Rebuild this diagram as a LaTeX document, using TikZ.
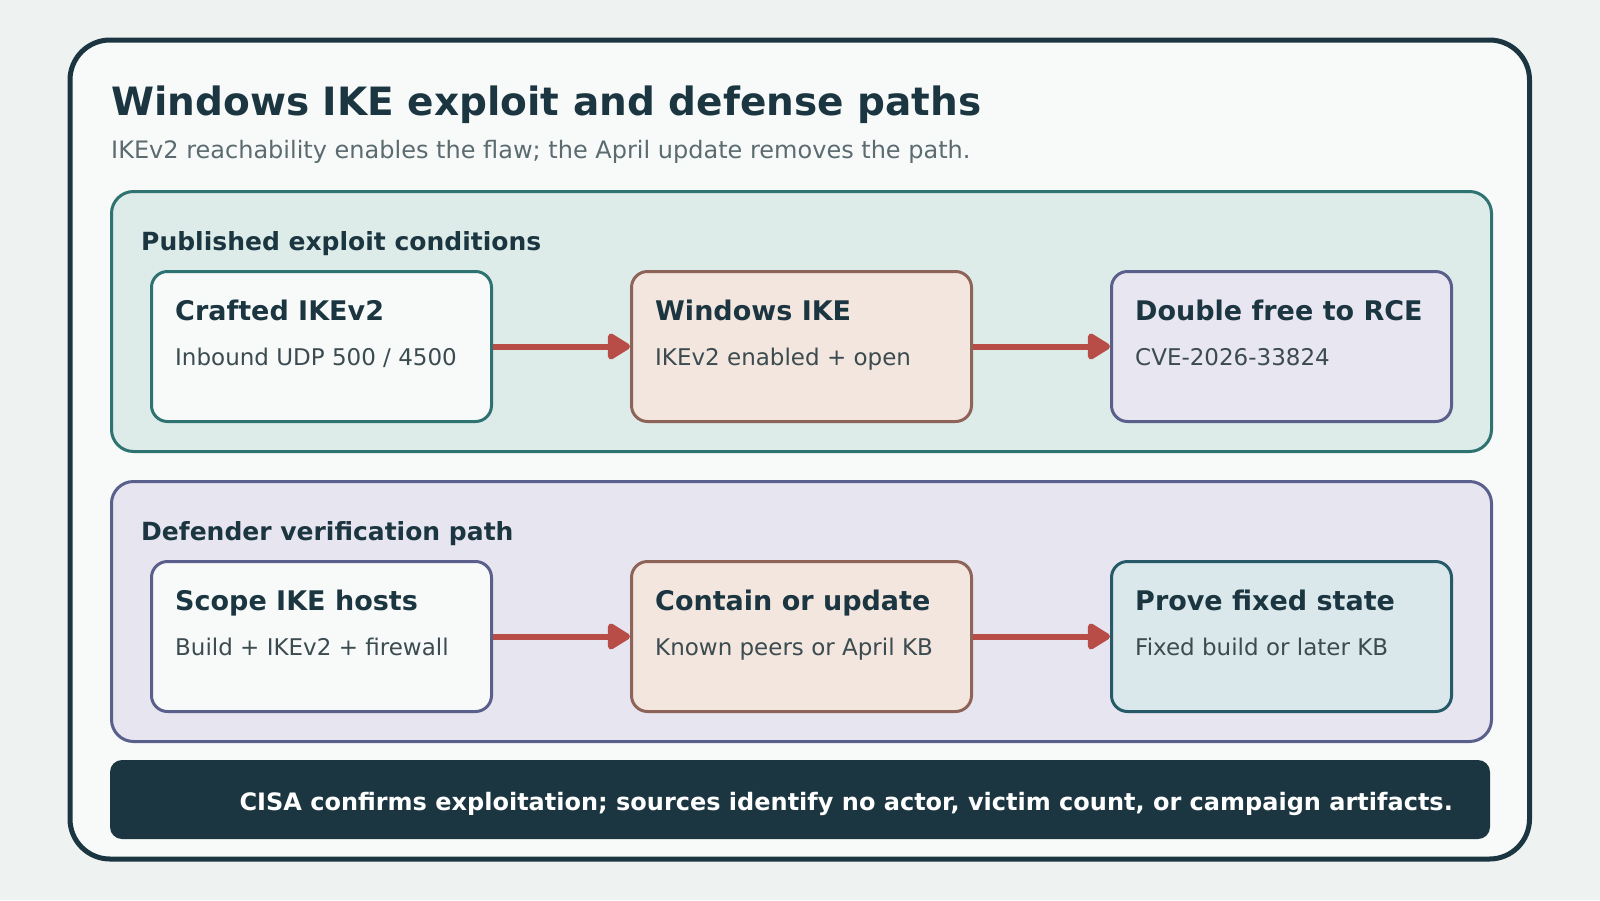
\documentclass[tikz,border=0pt]{standalone}
\usepackage{fontspec}
\setmainfont{DejaVu Sans}
\usetikzlibrary{arrows.meta}
\definecolor{pagebg}{HTML}{EEF3F2}
\definecolor{sheet}{HTML}{F7FAF9}
\definecolor{ink}{HTML}{1B3640}
\definecolor{muted}{HTML}{5B6B70}
\definecolor{bodyink}{HTML}{3B4B50}
\definecolor{teal}{HTML}{2E7271}
\definecolor{tealfill}{HTML}{DDECE9}
\definecolor{slate}{HTML}{5B5F8B}
\definecolor{slatefill}{HTML}{E6E5F0}
\definecolor{clay}{HTML}{8E6459}
\definecolor{clayfill}{HTML}{F3E6DF}
\definecolor{lilacfill}{HTML}{E8E6F1}
\definecolor{ocean}{HTML}{265A69}
\definecolor{oceanfill}{HTML}{DAE8EC}
\definecolor{flow}{HTML}{B84C47}

\begin{document}
\begin{tikzpicture}[x=1pt, y=-1pt,
    panel/.style={draw, line width=3pt, rounded corners=22pt, minimum width=1380pt, minimum height=260pt, anchor=north west, inner sep=0pt},
    card/.style={draw, line width=3pt, rounded corners=16pt, minimum width=340pt, minimum height=150pt, anchor=north west, inner sep=0pt},
    paneltitle/.style={anchor=base west, inner sep=0pt, text=ink, font=\bfseries\fontsize{25}{30}\selectfont},
    cardtitle/.style={anchor=base west, inner sep=0pt, text=ink, font=\bfseries\fontsize{27}{32}\selectfont},
    cardtext/.style={anchor=base west, inner sep=0pt, text=bodyink, font=\fontsize{23}{28}\selectfont},
    link/.style={draw=flow, line width=6pt, -{Triangle[length=25pt, width=29pt, round]}}]
  \useasboundingbox (0,0) rectangle (1600,900);
  \fill[pagebg] (0,0) rectangle (1600,900);
  \draw[ink, fill=sheet, line width=5pt, rounded corners=40pt] (70,40) rectangle (1529.5,859);

  \node[anchor=base west, inner sep=0pt, text=ink, font=\bfseries\fontsize{39}{46}\selectfont] (title) at (111,115) {Windows IKE exploit and defense paths};
  \node[anchor=base west, inner sep=0pt, text=muted, font=\fontsize{24}{28}\selectfont] (subtitle) at (111,158) {IKEv2 reachability enables the flaw; the April update removes the path.};

  % exploit row
  \node[panel, draw=teal, fill=tealfill] (exploit) at (110,190) {};
  \path (exploit.north west) ++(31,60) node[paneltitle] {Published exploit conditions};
  \node[card, draw=teal, fill=sheet] (craft) at (150,270) {};
  \node[card, draw=clay, fill=clayfill] (ike) at (630,270) {};
  \node[card, draw=slate, fill=lilacfill] (rce) at (1110,270) {};
  \path (craft.north west) ++(25,50) node[cardtitle] {Crafted IKEv2}
        (craft.north west) ++(25,95) node[cardtext] {Inbound UDP 500 / 4500};
  \path (ike.north west) ++(25,50) node[cardtitle] {Windows IKE}
        (ike.north west) ++(25,95) node[cardtext] {IKEv2 enabled + open};
  \path (rce.north west) ++(25,50) node[cardtitle] {Double free to RCE}
        (rce.north west) ++(25,95) node[cardtext] {CVE-2026-33824};
  \draw[link] (craft.east) -- (ike.west);
  \draw[link] (ike.east) -- (rce.west);

  % defender row
  \node[panel, draw=slate, fill=slatefill] (defend) at (110,480) {};
  \path (defend.north west) ++(31,60) node[paneltitle] {Defender verification path};
  \node[card, draw=slate, fill=sheet] (scope) at (150,560) {};
  \node[card, draw=clay, fill=clayfill] (contain) at (630,560) {};
  \node[card, draw=ocean, fill=oceanfill] (prove) at (1110,560) {};
  \path (scope.north west) ++(25,50) node[cardtitle] {Scope IKE hosts}
        (scope.north west) ++(25,95) node[cardtext] {Build + IKEv2 + firewall};
  \path (contain.north west) ++(25,50) node[cardtitle] {Contain or update}
        (contain.north west) ++(25,95) node[cardtext] {Known peers or April KB};
  \path (prove.north west) ++(25,50) node[cardtitle] {Prove fixed state}
        (prove.north west) ++(25,95) node[cardtext] {Fixed build or later KB};
  \draw[link] (scope.east) -- (contain.west);
  \draw[link] (contain.east) -- (prove.west);

  % banner
  \fill[ink, rounded corners=12pt] (110,760) rectangle (1490,839);
  \node[anchor=base east, inner sep=0pt, text=white, font=\bfseries\fontsize{24}{28}\selectfont] (note) at (1453,810) {CISA confirms exploitation; sources identify no actor, victim count, or campaign artifacts.};
\end{tikzpicture}
\end{document}
